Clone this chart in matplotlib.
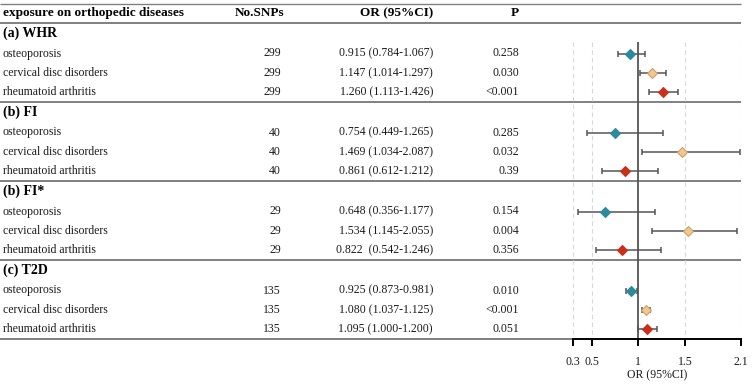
import matplotlib
matplotlib.use("Agg")
import matplotlib.pyplot as plt

plt.rcParams['font.family'] = ['Liberation Serif', 'DejaVu Serif']

groups = ["(a) WHR", "(b) FI", "(b) FI*", "(c) T2D"]
outcomes = ["osteoporosis", "cervical disc disorders", "rheumatoid arthritis"]
nsnps = [[299, 299, 299], [40, 40, 40], [29, 29, 29], [135, 135, 135]]
or_val = [[0.915, 1.147, 1.260], [0.754, 1.469, 0.861], [0.648, 1.534, 0.822], [0.925, 1.080, 1.095]]
ci_lo = [[0.784, 1.014, 1.113], [0.449, 1.034, 0.612], [0.356, 1.145, 0.542], [0.873, 1.037, 1.000]]
ci_hi = [[1.067, 1.297, 1.426], [1.265, 2.087, 1.212], [1.177, 2.055, 1.246], [0.981, 1.125, 1.200]]
or_text = [["0.915 (0.784-1.067)", "1.147 (1.014-1.297)", "1.260 (1.113-1.426)"],
           ["0.754 (0.449-1.265)", "1.469 (1.034-2.087)", "0.861 (0.612-1.212)"],
           ["0.648 (0.356-1.177)", "1.534 (1.145-2.055)", "0.822  (0.542-1.246)"],
           ["0.925 (0.873-0.981)", "1.080 (1.037-1.125)", "1.095 (1.000-1.200)"]]
p_text = [["0.258", "0.030", "<0.001"], ["0.285", "0.032", "0.39"],
          ["0.154", "0.004", "0.356"], ["0.010", "<0.001", "0.051"]]
xticks = [0.3, 0.5, 1, 1.5, 2.1]
xtick_labels = ["0.3", "0.5", "1", "1.5", "2.1"]
colors = ["#2B8A9B", "#F2C88E", "#C8301C"]
edges = ["#2B8A9B", "#C9A06A", "#C8301C"]

W, H = 753, 384
fig = plt.figure(figsize=(W / 100, H / 100), dpi=100)
ax = fig.add_axes([0, 0, 1, 1])
ax.set_xlim(0, W)
ax.set_ylim(H, 0)
ax.axis("off")

x_left, x_right = 573, 741
fax = fig.add_axes([x_left / W, 0, (x_right - x_left) / W, 1])
fax.set_xlim(0.3, 2.1)
fax.set_ylim(H, 0)
fax.patch.set_alpha(0)

line_col = "#808080"
txt_col = "#1a1a1a"
# header
hy = 13
ax.text(3, hy, "exposure on orthopedic diseases", fontsize=9.5, fontweight="bold", va="center", ha="left")
ax.text(284, hy, "No.SNPs", fontsize=9.5, fontweight="bold", va="center", ha="right")
ax.text(433, hy, "OR (95%CI)", fontsize=9.5, fontweight="bold", va="center", ha="right")
ax.text(519, hy, "P", fontsize=9.5, fontweight="bold", va="center", ha="right")
ax.hlines([3.5], 0, x_right, color=line_col, lw=1.0)
ax.hlines([22.5], 0, x_right, color=line_col, lw=1.4)

group_step = 79
top_y = 42
bottom_y = 339
for g, gname in enumerate(groups):
    gy = 33 + g * group_step
    ax.text(3, gy, gname, fontsize=10, fontweight="bold", va="center", ha="left")
    for i, oc in enumerate(outcomes):
        ry = gy + 20.5 + i * 19.4
        ax.text(3, ry, oc, fontsize=8.5, va="center", ha="left", color=txt_col)
        ax.text(281, ry, str(nsnps[g][i]), fontsize=8.5, va="center", ha="right", color=txt_col)
        ax.text(433, ry, or_text[g][i], fontsize=8.5, va="center", ha="right", color=txt_col)
        ax.text(519, ry, p_text[g][i], fontsize=8.5, va="center", ha="right", color=txt_col)
        fax.errorbar(or_val[g][i], ry, xerr=[[or_val[g][i] - ci_lo[g][i]], [ci_hi[g][i] - or_val[g][i]]],
                     fmt="none", ecolor="#555555", elinewidth=1.1, capsize=2.5, capthick=1.1, zorder=3)
        fax.plot(or_val[g][i], ry, marker="D", ms=5.5, color=colors[i], mec=edges[i], mew=0.8, zorder=4)
    sep_y = gy + 69
    end = x_right if g < len(groups) - 1 else x_left
    ax.hlines([sep_y], 0, end, color=line_col, lw=1.4)

# grid lines & reference
for t in xticks:
    if t != 1:
        fax.vlines(t, top_y, bottom_y, color="#D8D8D8", lw=0.8, linestyles=(0, (4, 3)), zorder=1)
fax.vlines(1, top_y, bottom_y, color="#555555", lw=1.3, zorder=2)

for s in ["top", "right", "left"]:
    fax.spines[s].set_visible(False)
fax.spines["bottom"].set_position(("data", bottom_y))
fax.spines["bottom"].set_linewidth(1.4)
fax.set_yticks([])
fax.set_xticks(xticks)
fax.set_xticklabels(xtick_labels, fontsize=8.5, color=txt_col)
fax.tick_params(axis="x", direction="out", length=5, width=1.4, pad=7.5)
fax.text(1.2, 375.5, "OR (95%CI)", fontsize=8.5, ha="center", va="center", color=txt_col)

fig.savefig("out.png", dpi=100)
